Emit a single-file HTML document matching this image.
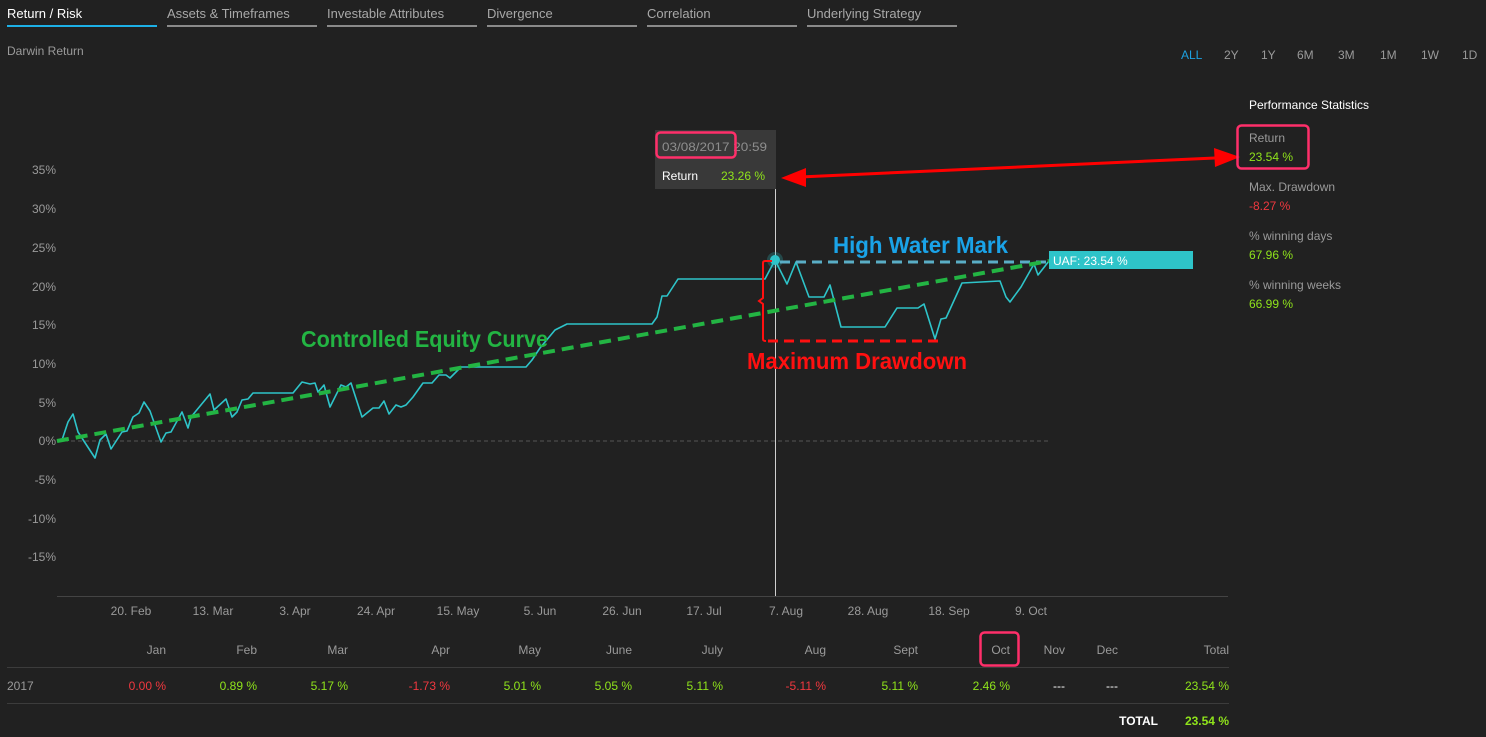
<!DOCTYPE html>
<html><head><meta charset="utf-8"><style>
html,body{margin:0;padding:0;background:#212121;}
svg{display:block;font-family:"Liberation Sans",sans-serif;}
.t{font-size:13px;fill:#a8a8a8}
.ax{font-size:12px;fill:#9a9a9a}
.g{fill:#8fe31b}.r{fill:#f0383f}
.imp{font-family:"Liberation Sans Narrow","Liberation Sans",sans-serif;font-weight:bold;font-size:23px}
</style></head><body>
<svg width="1486" height="737" viewBox="0 0 1486 737">
<rect width="1486" height="737" fill="#212121"/>
<text x="7" y="18" font-size="13" fill="#ffffff">Return / Risk</text>
<rect x="7" y="25" width="150" height="2" fill="#1db0e6"/>
<text x="167" y="18" class="t">Assets &amp; Timeframes</text><rect x="167" y="25" width="150" height="2" fill="#8a8a8a"/>
<text x="327" y="18" class="t">Investable Attributes</text><rect x="327" y="25" width="150" height="2" fill="#8a8a8a"/>
<text x="487" y="18" class="t">Divergence</text><rect x="487" y="25" width="150" height="2" fill="#8a8a8a"/>
<text x="647" y="18" class="t">Correlation</text><rect x="647" y="25" width="150" height="2" fill="#8a8a8a"/>
<text x="807" y="18" class="t">Underlying Strategy</text><rect x="807" y="25" width="150" height="2" fill="#8a8a8a"/>
<text x="7" y="55" font-size="12" fill="#9a9a9a">Darwin Return</text>
<g font-size="12" fill="#9a9a9a">
<text x="1181" y="59" fill="#1da1e0">ALL</text><text x="1224" y="59">2Y</text><text x="1261" y="59">1Y</text><text x="1297" y="59">6M</text><text x="1338" y="59">3M</text><text x="1380" y="59">1M</text><text x="1421" y="59">1W</text><text x="1462" y="59">1D</text>
</g>
<g class="ax" text-anchor="end">
<text x="56" y="174">35%</text><text x="56" y="213">30%</text><text x="56" y="252">25%</text><text x="56" y="291">20%</text><text x="56" y="329">15%</text><text x="56" y="368">10%</text><text x="56" y="407">5%</text><text x="56" y="445">0%</text><text x="56" y="484">-5%</text><text x="56" y="523">-10%</text><text x="56" y="561">-15%</text>
</g>
<line x1="57" y1="441" x2="1048" y2="441" stroke="#555" stroke-dasharray="4,3"/>
<line x1="57" y1="596.5" x2="1228" y2="596.5" stroke="#444"/>
<g class="ax" text-anchor="middle">
<text x="131" y="615">20. Feb</text><text x="213" y="615">13. Mar</text><text x="295" y="615">3. Apr</text><text x="376" y="615">24. Apr</text><text x="458" y="615">15. May</text><text x="540" y="615">5. Jun</text><text x="622" y="615">26. Jun</text><text x="704" y="615">17. Jul</text><text x="786" y="615">7. Aug</text><text x="868" y="615">28. Aug</text><text x="949" y="615">18. Sep</text><text x="1031" y="615">9. Oct</text>
</g>
<line x1="775.5" y1="130" x2="775.5" y2="596" stroke="#cfcfcf" stroke-width="1"/>
<polyline fill="none" stroke="#2ec4c9" stroke-width="1.6" stroke-linejoin="round" points="57,441 62,440 68,422 73,414 78,432 95,458 100,440 106,434 111,449 122,432 127,431 133,417 139,413 144,402 150,411 161,442 166,433 171,432 182,412 188,428 191,417 210,394 214,410 226,399 232,417 237,412 242,400 248,399 253,393 293,393 302,382 310,384 315,383 318,392 324,385 330,407 341,385 346,387 351,383 362,417 373,408 379,408 384,401 389,414 396,405 401,407 406,405 413,397 423,383 432,383 439,375 446,375 450,378 461,367 526,367 532,360 540,348 555,330 567,324 652,324 657,317 662,296 667,296 678,279 765,279 775,260 787,284 796,262 809,297 824,297 830,285 841,327 885,327 897,308 918,308 924,304 935,339 941,319 946,318 962,283 1000,281 1006,297 1010,302 1021,287 1034,264 1038,275 1049,261"/>
<circle cx="775" cy="260" r="8" fill="#2ec4c9" opacity="0.25"/>
<circle cx="775" cy="260" r="5" fill="#2ec4c9"/>
<line x1="780" y1="262" x2="1048" y2="262" stroke="#5aaec6" stroke-width="3" stroke-dasharray="10,6"/>
<line x1="57" y1="441" x2="1049" y2="261" stroke="#23b443" stroke-width="4" stroke-dasharray="12,7"/>
<path d="M772,261 L765,261 Q763,261 763,263 L763,298 L759,301 L763,304 L763,339 Q763,341 766,341" fill="none" stroke="#ff1010" stroke-width="2"/>
<line x1="768" y1="341" x2="942" y2="341" stroke="#ff1010" stroke-width="3" stroke-dasharray="10,6"/>
<text x="833" y="253" class="imp" fill="#1aa3e8" textLength="175" lengthAdjust="spacingAndGlyphs">High Water Mark</text>
<text x="301" y="347" class="imp" fill="#23b443" textLength="247" lengthAdjust="spacingAndGlyphs">Controlled Equity Curve</text>
<text x="747" y="369" class="imp" fill="#ff1010" textLength="220" lengthAdjust="spacingAndGlyphs">Maximum Drawdown</text>
<rect x="1049" y="251" width="144" height="18" fill="#2ec4c9"/>
<text x="1053" y="265" font-size="12" fill="#ffffff">UAF: 23.54 %</text>
<rect x="655" y="130" width="121" height="59" fill="#393939"/>
<text x="662" y="151" font-size="12" fill="#8e8e8e" textLength="105" lengthAdjust="spacingAndGlyphs">03/08/2017 20:59</text>
<rect x="656.5" y="132.5" width="79" height="25" rx="4" fill="none" stroke="#ff2f6a" stroke-width="2.5"/>
<text x="662" y="180" font-size="12" fill="#ffffff">Return</text>
<text x="721" y="180" font-size="12" class="g">23.26 %</text>
<line x1="800" y1="177" x2="1215" y2="158" stroke="#ff0000" stroke-width="3"/>
<polygon points="781,178 806,168 806,187" fill="#ff0000"/>
<polygon points="1240,157 1214,148 1215,167" fill="#ff0000"/>
<text x="1249" y="109" font-size="12" fill="#ffffff">Performance Statistics</text>
<g font-size="12">
<text x="1249" y="142" fill="#9a9a9a">Return</text><text x="1249" y="161" class="g">23.54 %</text>
<text x="1249" y="191" fill="#9a9a9a">Max. Drawdown</text><text x="1249" y="210" class="r">-8.27 %</text>
<text x="1249" y="240" fill="#9a9a9a">% winning days</text><text x="1249" y="259" class="g">67.96 %</text>
<text x="1249" y="289" fill="#9a9a9a">% winning weeks</text><text x="1249" y="308" class="g">66.99 %</text>
</g>
<rect x="1237.5" y="125.5" width="71" height="43" rx="4" fill="none" stroke="#ff2f6a" stroke-width="2.5"/>
<g font-size="12" fill="#9a9a9a" text-anchor="end">
<text x="166" y="654">Jan</text><text x="257" y="654">Feb</text><text x="348" y="654">Mar</text><text x="450" y="654">Apr</text><text x="541" y="654">May</text><text x="632" y="654">June</text><text x="723" y="654">July</text><text x="826" y="654">Aug</text><text x="918" y="654">Sept</text><text x="1010" y="654">Oct</text><text x="1065" y="654">Nov</text><text x="1118" y="654">Dec</text><text x="1229" y="654">Total</text>
</g>
<rect x="980.5" y="632.5" width="38" height="33" rx="4" fill="none" stroke="#ff2f6a" stroke-width="2.5"/>
<line x1="7" y1="667.5" x2="1229" y2="667.5" stroke="#3c3c3c"/>
<line x1="7" y1="703.5" x2="1229" y2="703.5" stroke="#3c3c3c"/>
<text x="7" y="690" font-size="12" fill="#9a9a9a">2017</text>
<g font-size="12" text-anchor="end">
<text x="166" y="690" class="r">0.00 %</text><text x="257" y="690" class="g">0.89 %</text><text x="348" y="690" class="g">5.17 %</text><text x="450" y="690" class="r">-1.73 %</text><text x="541" y="690" class="g">5.01 %</text><text x="632" y="690" class="g">5.05 %</text><text x="723" y="690" class="g">5.11 %</text><text x="826" y="690" class="r">-5.11 %</text><text x="918" y="690" class="g">5.11 %</text><text x="1010" y="690" class="g">2.46 %</text><text x="1065" y="690" fill="#fff">---</text><text x="1118" y="690" fill="#fff">---</text><text x="1229" y="690" class="g">23.54 %</text>
<text x="1158" y="725" fill="#fff" font-weight="bold">TOTAL</text><text x="1229" y="725" class="g" font-weight="bold">23.54 %</text>
</g>
</svg>
</body></html>
